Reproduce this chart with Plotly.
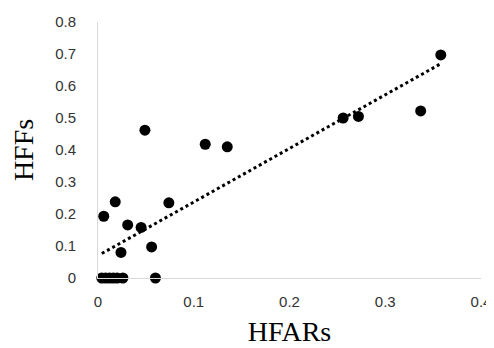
import numpy as np
import plotly.graph_objects as go

# Data
hfars = [0.004, 0.008, 0.012, 0.016, 0.020, 0.026, 0.060,
         0.006, 0.018, 0.024, 0.031, 0.045, 0.056, 0.074,
         0.049, 0.112, 0.135, 0.256, 0.272, 0.337, 0.358]
hffs = [0.0, 0.0, 0.0, 0.0, 0.0, 0.0, 0.0,
        0.193, 0.238, 0.080, 0.166, 0.158, 0.097, 0.235,
        0.462, 0.418, 0.410, 0.500, 0.505, 0.522, 0.697]

x_ticks = [0, 0.1, 0.2, 0.3, 0.4]
y_ticks = [0, 0.1, 0.2, 0.3, 0.4, 0.5, 0.6, 0.7, 0.8]

# Linear trendline (least squares) across the data range
slope, intercept = np.polyfit(hfars, hffs, 1)
tx = np.array([min(hfars), max(hfars)])
ty = slope * tx + intercept

fig = go.Figure()
fig.add_trace(go.Scatter(x=tx, y=ty, mode="lines",
                         line=dict(color="black", width=3, dash="dot"),
                         hoverinfo="skip", showlegend=False))
fig.add_trace(go.Scatter(x=hfars, y=hffs, mode="markers", cliponaxis=False,
                         marker=dict(color="black", size=11),
                         showlegend=False))

tick_font = dict(family="Liberation Sans, Arial, sans-serif", size=15, color="#333333")
title_font = dict(family="Liberation Serif, Times New Roman, serif", size=28, color="black")

# The page body adds an 8px offset, so the figure is sized 8px smaller on each axis
fig.update_layout(
    width=486, height=340,
    margin=dict(l=90, r=13, t=14, b=70),
    paper_bgcolor="white", plot_bgcolor="white",
    xaxis=dict(range=[0, 0.4], tickvals=x_ticks, ticktext=[f"{v:g}" for v in x_ticks],
               showgrid=False, zeroline=False, showline=True, linecolor="#d9d9d9",
               linewidth=1, ticks="", tickfont=tick_font, ticklabelstandoff=10,
               automargin=False, ticklabeloverflow="allow",
               title=dict(text="HFARs", font=title_font, standoff=12)),
    yaxis=dict(range=[0, 0.8], tickvals=y_ticks, ticktext=[f"{v:g}" for v in y_ticks],
               showgrid=False, zeroline=False, showline=True, linecolor="#d9d9d9",
               linewidth=1, ticks="", tickfont=tick_font, ticklabelstandoff=18,
               automargin=False,
               title=dict(text="HFFs", font=title_font, standoff=16)),
)

fig.write_html("out.html")
